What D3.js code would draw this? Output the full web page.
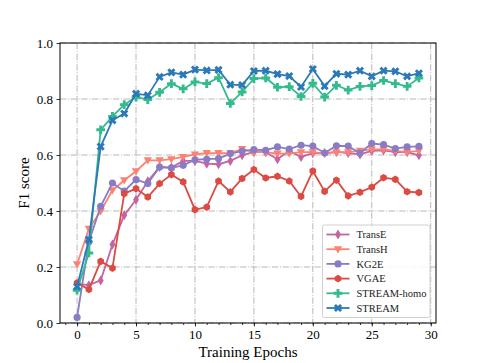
<!DOCTYPE html>
<html lang="en">
<head>
<meta charset="UTF-8">
<title>F1 score vs Training Epochs</title>
<style>
    html, body { margin: 0; padding: 0; background: #fff; overflow: hidden; }
    svg { display: block; }
    text { font-family: "Liberation Serif", "Times New Roman", serif; }
    .tick text { font-size: 13px; fill: #000; }
    .axis-label { font-size: 15px; fill: #000; }
    .legend text { font-size: 10.5px; fill: #222; }
</style>
</head>
<body>
<svg width="484" height="363"></svg>
<script src="https://d3js.org/d3.v7.min.js"></script>
<script>

    // Data
    const epochs = d3.range(0, 30);

    const transE = [0.14, 0.135, 0.152, 0.28, 0.385, 0.44, 0.506, 0.557, 0.555, 0.579,
        0.579, 0.569, 0.567, 0.579, 0.599, 0.611, 0.61, 0.585, 0.615, 0.593,
        0.607, 0.607, 0.611, 0.607, 0.602, 0.615, 0.617, 0.61, 0.61, 0.599];
    const transH = [0.21, 0.337, 0.399, 0.474, 0.51, 0.542, 0.581, 0.581, 0.585, 0.593,
        0.602, 0.607, 0.607, 0.607, 0.621, 0.61, 0.61, 0.605, 0.605, 0.61,
        0.61, 0.605, 0.61, 0.61, 0.615, 0.62, 0.62, 0.615, 0.61, 0.615];
    const kg2e = [0.02, 0.29, 0.417, 0.5, 0.471, 0.512, 0.498, 0.557, 0.554, 0.563,
        0.583, 0.585, 0.587, 0.605, 0.614, 0.619, 0.617, 0.629, 0.621, 0.635,
        0.632, 0.607, 0.633, 0.632, 0.607, 0.641, 0.637, 0.623, 0.629, 0.631];
    const vgae = [0.143, 0.12, 0.22, 0.196, 0.462, 0.48, 0.45, 0.498, 0.53, 0.504,
        0.405, 0.414, 0.507, 0.468, 0.516, 0.548, 0.518, 0.524, 0.507, 0.452,
        0.543, 0.47, 0.51, 0.454, 0.467, 0.485, 0.519, 0.513, 0.469, 0.466];
    const streamHomo = [0.117, 0.25, 0.69, 0.738, 0.78, 0.807, 0.798, 0.824, 0.855, 0.836,
        0.861, 0.855, 0.876, 0.784, 0.825, 0.873, 0.875, 0.842, 0.844, 0.809,
        0.856, 0.807, 0.849, 0.832, 0.845, 0.848, 0.866, 0.855, 0.845, 0.875];
    const stream = [0.13, 0.298, 0.63, 0.724, 0.748, 0.819, 0.813, 0.879, 0.895, 0.887,
        0.905, 0.902, 0.904, 0.851, 0.85, 0.9, 0.901, 0.889, 0.882, 0.843,
        0.907, 0.846, 0.89, 0.887, 0.901, 0.881, 0.901, 0.899, 0.881, 0.892];

    const seriesNames = ['TransE', 'TransH', 'KG2E', 'VGAE', 'STREAM-homo', 'STREAM'];
    const seriesValues = [transE, transH, kg2e, vgae, streamHomo, stream];

    const xTicks = [0, 5, 10, 15, 20, 25, 30];
    const yTicks = [0.0, 0.2, 0.4, 0.6, 0.8, 1.0];

    // Styles
    const colors = ['#c265a0', '#fc8173', '#8a7cc4', '#db4a43', '#33bb8e', '#2b79b6'];

    // Marker paths (centered on 0,0)
    const thinDiamond = 'M0,-5L3,0L0,5L-3,0Z';
    const triDown = 'M-4.2,-3L4.2,-3L0,4.2Z';
    const hexagon = d3.range(6).map(function (k) {
        const a = Math.PI / 6 + k * Math.PI / 3;
        return [3.8 * Math.cos(a), 3.8 * Math.sin(a)];
    });
    const hexPath = 'M' + hexagon.map(function (p) { return p.join(','); }).join('L') + 'Z';
    const plusPath = d3.symbol(d3.symbolCross, 42)();
    const markers = [
        { d: thinDiamond, rot: 0 },
        { d: triDown, rot: 0 },
        { d: d3.symbol(d3.symbolCircle, 40)(), rot: 0 },
        { d: hexPath, rot: 0 },
        { d: plusPath, rot: 0 },
        { d: plusPath, rot: 45 }
    ];

    const margin = { left: 60, right: 48, top: 43, bottom: 40 };

    const svg = d3.select('svg');
    const width = +svg.attr('width');
    const height = +svg.attr('height');
    const innerWidth = width - margin.left - margin.right;
    const innerHeight = height - margin.top - margin.bottom;

    const xScale = d3.scaleLinear()
        .domain([-1.45, 30.45])
        .range([0, innerWidth]);

    const yScale = d3.scaleLinear()
        .domain([0, 1])
        .range([innerHeight, 0]);

    const group = svg.append('g')
        .attr('transform', 'translate(' + margin.left + ' ' + margin.top + ')');

    // Grid, dash-dot
    const grid = group.append('g')
        .attr('stroke', '#b8b8b8')
        .attr('stroke-width', 1)
        .attr('stroke-dasharray', '6.4,1.6,1,1.6');

    grid.selectAll('.vgrid')
        .data(xTicks)
        .enter()
        .append('line')
        .attr('x1', function (d) { return xScale(d); })
        .attr('x2', function (d) { return xScale(d); })
        .attr('y1', 0)
        .attr('y2', innerHeight);

    grid.selectAll('.hgrid')
        .data(yTicks)
        .enter()
        .append('line')
        .attr('x1', 0)
        .attr('x2', innerWidth)
        .attr('y1', function (d) { return yScale(d); })
        .attr('y2', function (d) { return yScale(d); });

    // Axes
    const xAxisG = group.append('g')
        .attr('transform', 'translate(0 ' + innerHeight + ')');

    // minor ticks, every epoch
    xAxisG.append('g').call(d3.axisBottom(xScale)
        .tickValues(d3.range(-1, 31))
        .tickSize(2)
        .tickFormat(''));
    xAxisG.selectAll('.tick text').remove();

    xAxisG.append('g').call(d3.axisBottom(xScale)
        .tickValues(xTicks)
        .tickSize(3.5)
        .tickPadding(3.5)
        .tickFormat(d3.format('d')));

    const yAxisG = group.append('g');
    yAxisG.call(d3.axisLeft(yScale)
        .tickValues(yTicks)
        .tickSize(3.5)
        .tickPadding(3.5)
        .tickFormat(d3.format('.1f')));

    group.selectAll('.domain').remove();
    group.selectAll('.tick line').attr('stroke', '#000').attr('stroke-width', 0.8);

    // Series lines + markers
    const line = d3.line()
        .x(function (d, i) { return xScale(epochs[i]); })
        .y(function (d) { return yScale(d); });

    seriesValues.forEach(function (values, s) {
        const g = group.append('g');
        g.append('path')
            .datum(values)
            .attr('d', line)
            .attr('fill', 'none')
            .attr('stroke', colors[s])
            .attr('stroke-width', 1.8);
        g.selectAll('path.mk')
            .data(values)
            .enter()
            .append('path')
            .attr('class', 'mk')
            .attr('d', markers[s].d)
            .attr('fill', colors[s])
            .attr('transform', function (d, i) {
                return 'translate(' + xScale(epochs[i]) + ',' + yScale(d) + ') rotate(' + markers[s].rot + ')';
            });
    });

    // Frame
    group.append('rect')
        .attr('width', innerWidth)
        .attr('height', innerHeight)
        .attr('fill', 'none')
        .attr('stroke', '#000')
        .attr('stroke-width', 1);

    // Axis labels
    svg.append('text')
        .attr('class', 'axis-label')
        .attr('x', margin.left + innerWidth / 2)
        .attr('y', 357)
        .attr('text-anchor', 'middle')
        .text('Training Epochs');

    svg.append('text')
        .attr('class', 'axis-label')
        .attr('transform', 'translate(29 ' + (margin.top + innerHeight / 2) + ') rotate(-90)')
        .attr('text-anchor', 'middle')
        .text('F1 score');

    // Legend
    const legend = group.append('g')
        .attr('class', 'legend')
        .attr('transform', 'translate(' + (322.5 - margin.left) + ' ' + (225 - margin.top) + ')');

    legend.append('rect')
        .attr('width', 107.5)
        .attr('height', 92.5)
        .attr('rx', 2)
        .attr('fill', '#fff')
        .attr('fill-opacity', 0.85)
        .attr('stroke', '#d0d0d0')
        .attr('stroke-width', 1);

    seriesNames.forEach(function (name, s) {
        const row = legend.append('g')
            .attr('transform', 'translate(0 ' + (9.5 + s * 14.7) + ')');
        row.append('line')
            .attr('x1', 4)
            .attr('x2', 27)
            .attr('stroke', colors[s])
            .attr('stroke-width', 1.8);
        row.append('path')
            .attr('d', markers[s].d)
            .attr('fill', colors[s])
            .attr('transform', 'translate(15.5,0) rotate(' + markers[s].rot + ')');
        row.append('text')
            .attr('x', 34)
            .attr('dy', '0.35em')
            .text(name);
    });

</script>
</body>
</html>
